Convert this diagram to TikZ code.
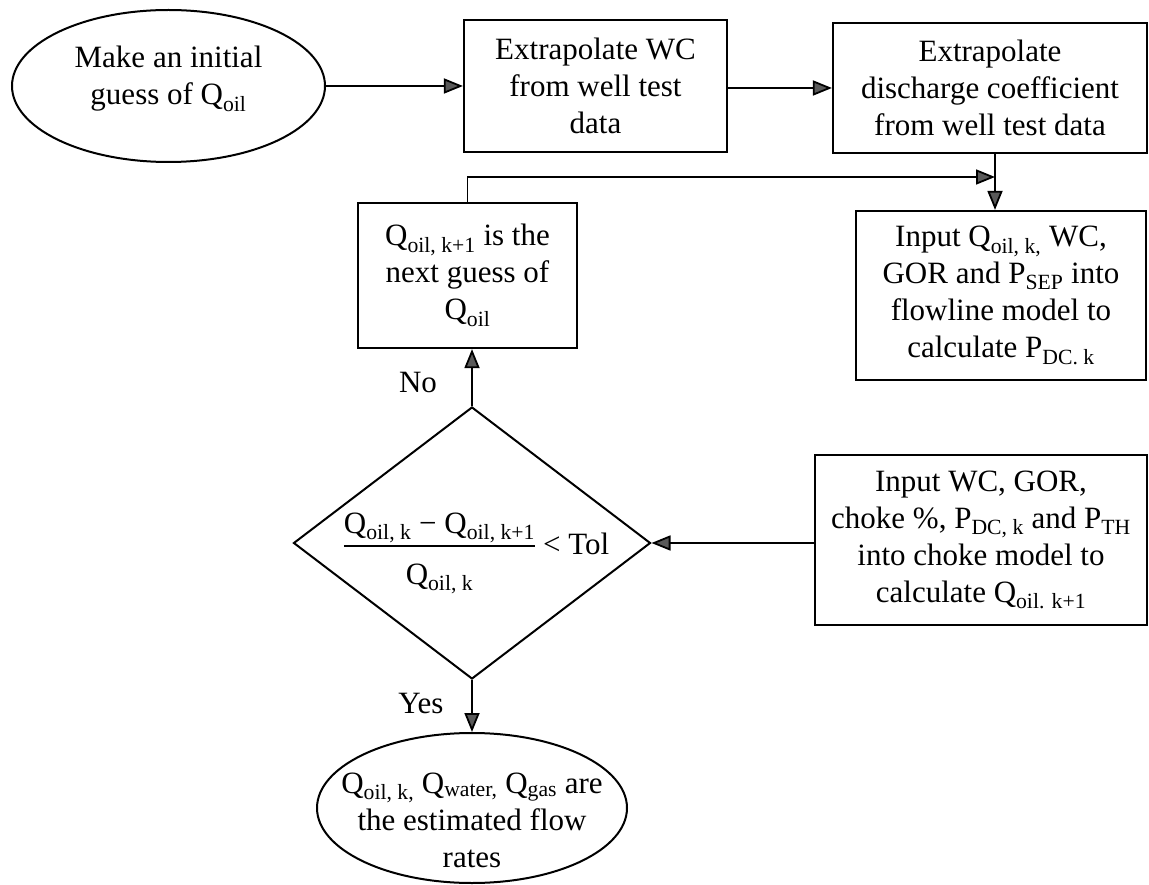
\documentclass[tikz,border=0pt]{standalone}
\usepackage{fontspec}
\setmainfont{Liberation Serif}
\usetikzlibrary{shapes.geometric,arrows.meta,calc}
\begin{document}
\begin{tikzpicture}[x=1pt,y=-1pt,
  every node/.style={font=\fontsize{31}{37}\selectfont, align=center, inner sep=0pt},
  box/.style={draw, line width=2.2pt, rectangle},
  oval/.style={draw, line width=2pt, ellipse},
  decision/.style={draw, line width=2pt, diamond},
  arr/.style={line width=1.8pt, -{Triangle[length=19pt,width=15pt,fill=black!65]}},
  lbl/.style={}]
\useasboundingbox (0,0) rectangle (1149,885);

\node[oval, minimum width=313pt, minimum height=152pt] (e1) at (168.5,86) {};
\node (e1t) at (168.5,79) {Make an initial\\guess of Q\textsubscript{oil}};
\node[box, minimum width=263pt, minimum height=132pt] (b1) at (595.5,86)
  {Extrapolate WC\\from well test\\data};
\node[box, minimum width=314pt, minimum height=130pt] (b2) at (990,88)
  {Extrapolate\\discharge coefficient\\from well test data};
\node[box, minimum width=290pt, minimum height=169pt] (in1) at (1001,295.5)
  {Input Q\textsubscript{oil, k,} WC,\\GOR and P\textsubscript{SEP} into\\flowline model to\\calculate P\textsubscript{DC. k}};
\node[box, minimum width=219pt, minimum height=145pt] (qn) at (467.5,275.5)
  {Q\textsubscript{oil, k+1} is the\\next guess of\\Q\textsubscript{oil}};
\node[box, minimum width=332pt, minimum height=170pt] (in2) at (981,540)
  {Input WC, GOR,\\choke \%, P\textsubscript{DC, k} and P\textsubscript{TH}\\into choke model to\\calculate Q\textsubscript{oil. k+1}};
\node[decision, minimum width=357pt, minimum height=272pt] (d) at (472,543) {};
\node[anchor=base] (num) at (439.5,533) {Q\textsubscript{oil, k} − Q\textsubscript{oil, k+1}};
\node[anchor=base] (den) at (439.5,584) {Q\textsubscript{oil, k}};
\node[anchor=base west] (tol) at (543,554) {< Tol};
\draw[line width=1.6pt] ([yshift=-13pt]num.base west) -- ([yshift=-13pt]num.base east);
\node[oval, minimum width=310pt, minimum height=150pt] (e2) at (472,808) {};
\node (e2t) at (472,820)
  {Q\textsubscript{oil, k,} Q\textsubscript{water,} Q\textsubscript{gas} are\\the estimated flow\\rates};

\node[lbl] (no) at (418,383) {No};
\node[lbl] (yes) at (421,703) {Yes};

\coordinate (j) at (995,177);
\draw[arr] (e1.east) -- (e1.east -| b1.west);
\draw[arr] (b1.east |- b2.west) -- (b2.west);
\draw[arr] (b2.south -| j) -- (in1.north -| j);
\draw[arr] (qn.north) |- (j);
\draw[arr] (in2.west |- d.east) -- (d.east);
\draw[arr] (d.north) -- (d.north |- qn.south);
\draw[arr] (d.south) -- (e2.north);
\end{tikzpicture}
\end{document}
